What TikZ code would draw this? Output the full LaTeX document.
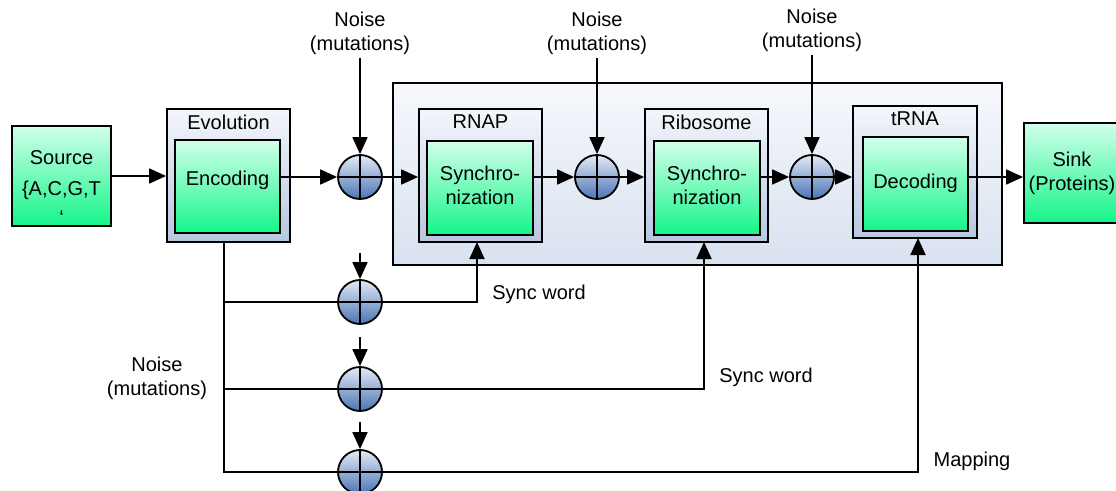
\documentclass[tikz,border=0pt]{standalone}
\usepackage{fontspec}
\setmainfont{Liberation Sans}
\usetikzlibrary{arrows.meta,calc}
\definecolor{gtop}{HTML}{D2FFEA}
\definecolor{gbot}{HTML}{14F58A}
\definecolor{otop}{HTML}{F4F6FB}
\definecolor{obot}{HTML}{B6C7E0}
\definecolor{btop}{HTML}{F6F8FC}
\definecolor{bbot}{HTML}{D8E2EF}
\definecolor{stop}{HTML}{E2EAF5}
\definecolor{sbot}{HTML}{4A75B5}
\tikzset{
  every node/.style={font=\fontsize{20}{24}\selectfont, inner sep=0pt, align=center},
  ln/.style={line width=1.8pt, draw=black},
  arr/.style={ln, -{Triangle[length=17pt,width=15pt]}},
  greenbox/.style={rectangle, ln, top color=gtop, bottom color=gbot},
  outerbox/.style={rectangle, ln, top color=otop, bottom color=obot},
  bigbox/.style={rectangle, ln, top color=btop, bottom color=bbot},
  sumnode/.style={circle, ln, minimum size=44pt, top color=stop, bottom color=sbot,
    path picture={\draw[line width=1.8pt] (path picture bounding box.north) -- (path picture bounding box.south)
      (path picture bounding box.west) -- (path picture bounding box.east);}},
}
\begin{document}
\begin{tikzpicture}[x=1pt,y=-1pt]
\useasboundingbox (0,0) rectangle (1116,490);
\clip (0,0) rectangle (1116,490);
\fill[white] (0,0) rectangle (1116,490);

% big container
\node[bigbox, minimum width=609pt, minimum height=182pt] (big) at (697.5,174) {};

% source
\node[greenbox, minimum width=99pt, minimum height=100pt] (src) at (61.5,176) {};
\node (srct1) at (61.5,158) {Source};
\node (srct2) at (61.5,190) {\{A,C,G,T};
\node (srct3) at (61.5,218) {\symbol{96}};

% evolution / encoding
\node[outerbox, minimum width=123pt, minimum height=133pt] (evo) at (228.5,175.5) {};
\node (evol) at (228.5,122) {Evolution};
\node[greenbox, minimum width=105pt, minimum height=93pt] (enc) at (227.5,186.5) {};
\node (enct) at (227.5,180) {Encoding};

% RNAP
\node[outerbox, minimum width=123pt, minimum height=133pt] (rnap) at (480.5,175.5) {};
\node (rnapl) at (480.5,122) {RNAP};
\node[greenbox, minimum width=106pt, minimum height=94pt] (sync1) at (480,188) {};
\node (sync1t) at (480,185) {Synchro-\\nization};

% Ribosome
\node[outerbox, minimum width=123pt, minimum height=133pt] (ribo) at (706.5,175.5) {};
\node (ribol) at (706.5,122) {Ribosome};
\node[greenbox, minimum width=106pt, minimum height=94pt] (sync2) at (707,188) {};
\node (sync2t) at (707,185) {Synchro-\\nization};

% tRNA
\node[outerbox, minimum width=124pt, minimum height=132pt] (trna) at (915,172) {};
\node (trnal) at (915,119) {tRNA};
\node[greenbox, minimum width=105pt, minimum height=94pt] (dec) at (915.5,184) {};
\node (dect) at (915.5,183) {Decoding};

% sink
\node[greenbox, minimum width=102pt, minimum height=100pt] (sink) at (1075,173) {};
\node (sinkt) at (1072,173) {Sink\\(Proteins)};

% summing junctions
\node[sumnode] (s1) at (360,177) {};
\node[sumnode] (s2) at (597,177) {};
\node[sumnode] (s3) at (812,177) {};
\node[sumnode] (s4) at (360,302) {};
\node[sumnode] (s5) at (360,389) {};
\node[sumnode] (s6) at (360,472) {};

% noise labels
\node (n1) at (360,33) {Noise\\(mutations)};
\node (n2) at (597,33) {Noise\\(mutations)};
\node (n3) at (812,30) {Noise\\(mutations)};
\node (n4) at (157,378) {Noise\\(mutations)};

% main chain
\draw[arr] (src.east |- 0,176) -- (evo.west |- 0,176);
\draw[arr] (enc.east |- s1.west) -- (s1.west);
\draw[arr] (s1.east) -- (rnap.west |- s1.east);
\draw[arr] (sync1.east |- s2.west) -- (s2.west);
\draw[arr] (s2.east) -- (ribo.west |- s2.east);
\draw[arr] (sync2.east |- s3.west) -- (s3.west);
\draw[arr] (s3.east) -- (trna.west |- s3.east);
\draw[arr] (dec.east |- 0,177) -- (sink.west |- 0,177);

% noise arrows (top)
\draw[arr] (n1.south) ++(0,3) -- (s1.north);
\draw[arr] (n2.south) ++(0,3) -- (s2.north);
\draw[arr] (n3.south) ++(0,3) -- (s3.north);

% noise arrows (bottom)
\coordinate (m4) at (360,253);
\coordinate (m5) at (360,337);
\coordinate (m6) at (360,422);
\draw[arr] (m4) -- (s4.north);
\draw[arr] (m5) -- (s5.north);
\draw[arr] (m6) -- (s6.north);

% trunk from evolution
\coordinate (t0) at (224,242);
\coordinate (t4) at (224,302);
\coordinate (t5) at (224,389);
\draw[ln] (t0) |- (s6.west);
\draw[ln] (t4) -- (s4.west);
\draw[ln] (t5) -- (s5.west);

% feedback lines
\coordinate (c1) at (477,242);
\coordinate (c2) at (704,242);
\coordinate (c3) at (918,238);
\draw[arr] (s4.east) -| (c1);
\draw[arr] (s5.east) -| (c2);
\draw[arr] (s6.east) -| (c3);

\node (sw1) at (539,294) {Sync word};
\node (sw2) at (766,377) {Sync word};
\node (map) at (972,461) {Mapping};
\end{tikzpicture}
\end{document}
